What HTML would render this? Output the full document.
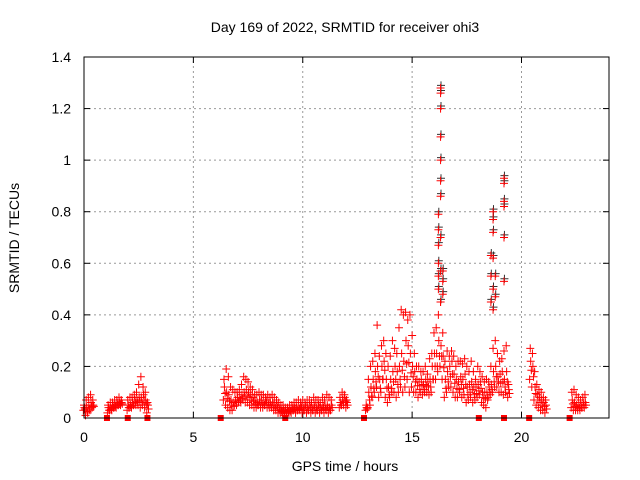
<!DOCTYPE html>
<html><head><meta charset="utf-8"><style>
body{margin:0;background:#fff}
svg{display:block;font-family:"Liberation Sans",sans-serif}
</style></head><body>
<svg id="chart" width="640" height="480">
<rect width="640" height="480" fill="#fff"/>
<text x="345" y="32" text-anchor="middle" font-size="14">Day 169 of 2022, SRMTID for receiver ohi3</text>
<text x="345" y="471" text-anchor="middle" font-size="14">GPS time / hours</text>
<text transform="translate(19,238) rotate(-90)" text-anchor="middle" font-size="14">SRMTID / TECUs</text>
<g id="grid"></g><g id="ticks"></g><g id="marks"></g>
<rect x="84" y="57" width="525" height="361" fill="none" stroke="#000" stroke-width="1"/>
</svg>
<script>
const xTicks=[0,5,10,15,20];
const yTicks=[0,0.2,0.4,0.6,0.8,1,1.2,1.4];
const yTickLabels=["0","0.2","0.4","0.6","0.8","1","1.2","1.4"];
const times=[0,0.1,0.2,0.3,0.4,
1.1,1.2,1.3,1.4,1.5,1.6,1.7,
2.0,2.1,2.2,2.3,2.4,2.5,2.6,2.7,2.8,2.9,
6.4,6.5,6.6,6.7,6.8,6.9,7.0,7.1,7.2,7.3,7.4,7.5,7.6,7.7,7.8,7.9,8.0,8.1,8.2,8.3,8.4,8.5,8.6,8.7,8.8,8.9,9.0,9.1,9.2,9.3,9.4,9.5,9.6,9.7,9.8,9.9,10.0,10.1,10.2,10.3,10.4,10.5,10.6,10.7,10.8,10.9,11.0,11.1,11.2,11.3,11.7,11.8,11.9,12.0,
12.9,13.0,13.1,13.2,13.3,13.4,13.5,13.6,13.7,13.8,13.9,14.0,14.1,14.2,14.3,14.4,14.5,14.6,14.7,14.8,14.9,15.0,15.1,15.2,15.3,15.4,15.5,15.6,15.7,15.8,15.9,16.0,16.1,16.2,16.3,16.4,16.5,16.6,16.7,16.8,16.9,17.0,17.1,17.2,17.3,17.4,17.5,17.6,17.7,17.8,17.9,18.0,18.1,18.2,18.3,18.4,18.5,18.6,18.7,18.8,18.9,19.0,19.1,19.2,19.3,19.4,
20.4,20.5,20.6,20.7,20.8,20.9,21.0,21.1,
22.3,22.4,22.5,22.6,22.7,22.8,22.9];
const lowVals=[.03,.01,.02,.03,.04,
.02,.03,.03,.04,.04,.05,.05,
.03,.04,.04,.05,.05,.05,.04,.05,.04,.02,
.07,.05,.04,.03,.03,.05,.05,.06,.06,.07,.06,.06,.05,.05,.04,.04,.05,.04,.04,.05,.04,.04,.04,.03,.03,.02,.02,.02,.01,.02,.02,.02,.03,.02,.03,.03,.02,.03,.02,.03,.02,.03,.02,.03,.02,.03,.02,.03,.02,.03,.04,.05,.05,.04,
.03,.04,.05,.08,.1,.12,.08,.1,.15,.08,.06,.08,.1,.1,.08,.1,.12,.1,.12,.15,.1,.12,.1,.1,.08,.1,.09,.1,.1,.09,.1,.15,.15,.18,.2,.15,.08,.1,.12,.12,.1,.08,.08,.1,.08,.09,.06,.07,.08,.06,.07,.08,.09,.06,.05,.04,.08,.09,.1,.12,.12,.1,.1,.09,.1,.08,
.15,.12,.07,.05,.04,.03,.03,.02,
.04,.03,.03,.03,.03,.04,.04];
const midVals=[.04,.04,.05,.06,.05,
.04,.04,.05,.05,.06,.06,.06,
.05,.05,.06,.07,.07,.08,.08,.09,.07,.05,
.12,.1,.09,.07,.06,.07,.08,.08,.09,.1,.11,.1,.09,.08,.07,.06,.07,.07,.06,.07,.06,.06,.06,.05,.05,.04,.03,.03,.03,.03,.03,.04,.04,.04,.04,.05,.04,.05,.04,.05,.04,.05,.04,.05,.04,.05,.05,.05,.04,.05,.06,.07,.08,.06,
.04,.1,.12,.15,.18,.2,.15,.2,.22,.15,.12,.15,.18,.2,.18,.2,.25,.22,.3,.28,.25,.2,.18,.15,.14,.15,.13,.15,.14,.15,.2,.25,.25,.3,.28,.24,.15,.18,.2,.22,.17,.15,.14,.16,.15,.17,.12,.13,.14,.12,.12,.13,.14,.1,.1,.1,.12,.13,.18,.2,.16,.17,.18,.15,.18,.11,
.22,.2,.12,.09,.08,.07,.06,.05,
.07,.06,.05,.05,.05,.06,.06];
const highVals=[.05,.07,.08,.09,.07,
.05,.06,.06,.07,.07,.08,.07,
.07,.08,.08,.09,.1,.13,.16,.12,.1,.06,
.15,.19,.16,.12,.11,.1,.1,.11,.13,.16,.15,.14,.12,.11,.09,.09,.1,.09,.09,.08,.09,.08,.09,.08,.07,.06,.05,.05,.04,.04,.05,.05,.06,.06,.07,.06,.07,.06,.07,.07,.06,.08,.07,.07,.06,.08,.07,.09,.08,.07,.08,.1,.09,.07,
.05,.15,.2,.22,.25,.36,.24,.28,.3,.25,.2,.24,.3,.27,.25,.35,.42,.4,.41,.38,.4,.32,.25,.2,.2,.18,.18,.2,.17,.23,.25,.33,.35,.4,.45,.33,.22,.26,.24,.26,.24,.2,.22,.22,.21,.23,.2,.18,.22,.18,.15,.2,.18,.16,.14,.15,.14,.2,.27,.3,.25,.22,.23,.26,.28,.13,
.27,.25,.18,.13,.11,.1,.08,.07,
.1,.11,.09,.08,.07,.08,.09];
const spikeTimes=[16.2,16.2,16.2,16.2,16.2,16.2,16.3,16.3,16.3,16.3,16.3,16.3,16.3,16.3,16.3,16.3,16.4,16.4,16.4,18.6,18.6,18.6,18.7,18.7,18.7,18.7,18.7,18.7,18.8,18.8,19.2,19.2,19.2,19.2,19.2,19.2];
const spikeVals=[.79,.73,.67,.6,.55,.5,1.28,1.26,1.2,1.09,1.0,.92,.86,.7,.57,.45,.57,.53,.48,.63,.55,.45,.8,.77,.72,.62,.5,.42,.55,.47,.93,.91,.82,.84,.7,.53];
const zeroTimes=[1.05,2.0,2.9,6.25,9.2,12.8,18.05,19.2,20.35,22.2];

const X0=84,X1=609,Y0=418,Y1=57,XMAX=24,YMAX=1.4;
const sx=v=>X0+(v/XMAX)*(X1-X0);
const sy=v=>Y0-(v/YMAX)*(Y0-Y1);
const NS="http://www.w3.org/2000/svg";
const grid=document.getElementById('grid'),ticks=document.getElementById('ticks'),marks=document.getElementById('marks');
function mk(tag,a,p){const e=document.createElementNS(NS,tag);for(const k in a)e.setAttribute(k,a[k]);p.appendChild(e);return e;}
xTicks.forEach(t=>{const x=sx(t);
 if(t>0){const g=mk('line',{x1:x,x2:x,y1:Y0,y2:Y1,stroke:'#999','stroke-dasharray':'2,3'},grid);
 
 }
 mk('line',{x1:x,x2:x,y1:Y0,y2:Y0-6,stroke:'#000'},ticks);
 mk('line',{x1:x,x2:x,y1:Y1,y2:Y1+6,stroke:'#000'},ticks);
 const l=mk('text',{x:x,y:442,'text-anchor':'middle','font-size':14},ticks);l.textContent=t;
 
 });
yTicks.forEach((t,i)=>{const y=sy(t);
 if(t>0&&t<YMAX){const g=mk('line',{x1:X0,x2:X1,y1:y,y2:y,stroke:'#999','stroke-dasharray':'2,3'},grid);
 
 }
 mk('line',{x1:X0,x2:X0+6,y1:y,y2:y,stroke:'#000'},ticks);
 mk('line',{x1:X1,x2:X1-6,y1:y,y2:y,stroke:'#000'},ticks);
 const l=mk('text',{x:71,y:y+5,'text-anchor':'end','font-size':14},ticks);l.textContent=yTickLabels[i];
 
 });
function plus(t,v,c){const x=sx(t),y=sy(v);
 const p=mk('path',{d:`M${x-4} ${y}h8M${x} ${y-4}v8`,stroke:c,'stroke-width':1,fill:'none'},marks);
 
 }
spikeTimes.forEach((t,i)=>{plus(t+0.02,spikeVals[i]+0.01,'#333');});
times.forEach((t,i)=>{plus(t-0.03,lowVals[i],'red');plus(t+0.02,midVals[i],'red');plus(t,highVals[i],'red');plus(t+0.05,(lowVals[i]+midVals[i])/2,'red');});
spikeTimes.forEach((t,i)=>{plus(t,spikeVals[i],'red');});
zeroTimes.forEach(t=>{const r=mk('rect',{x:sx(t)-3,y:Y0-3,width:6,height:6,fill:'red'},marks);
 
 });
</script>
</body></html>
